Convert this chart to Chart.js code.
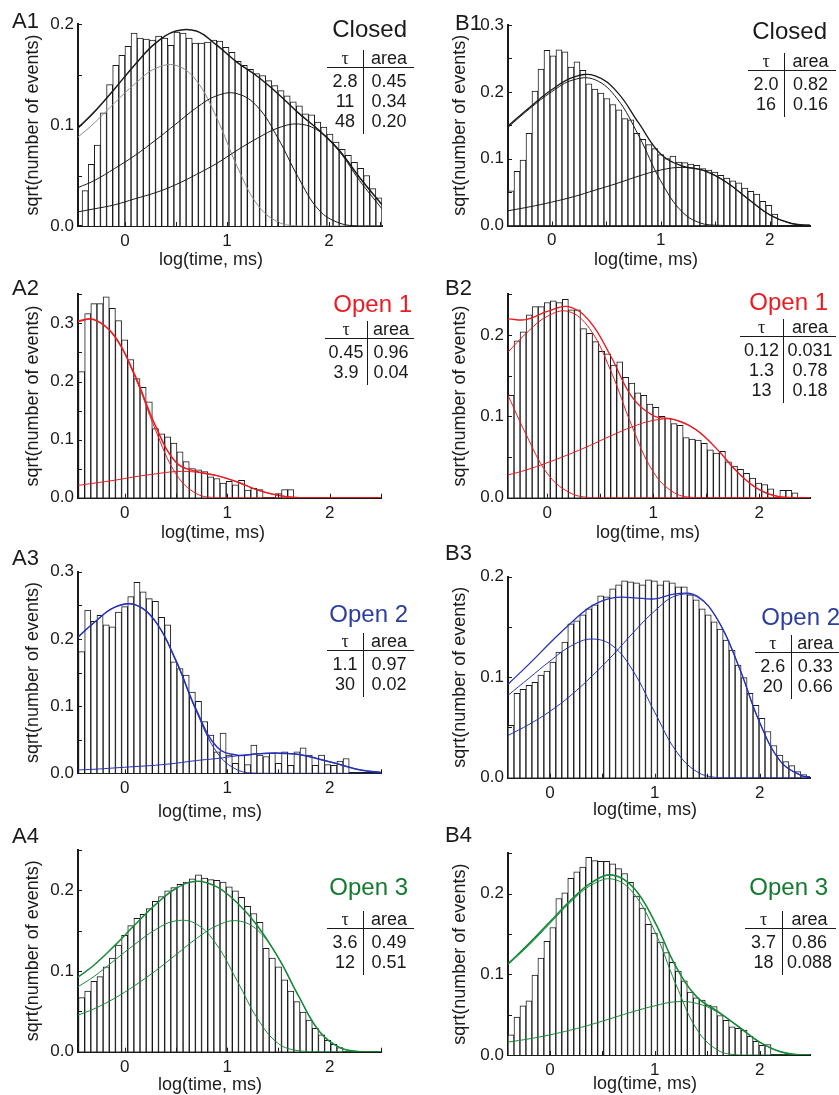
<!DOCTYPE html>
<html>
<head>
<meta charset="utf-8">
<script src="https://cdn.jsdelivr.net/npm/chart.js@4.4.1/dist/chart.umd.min.js"></script>
<style>
  html, body { margin: 0; padding: 0; background: #fff; }
  #fig { position: relative; width: 839px; height: 1095px; overflow: hidden;
         font-family: "Liberation Sans", Arial, Helvetica, sans-serif; color: #1a1a1a; }
  #fig canvas { position: absolute; }
  .lbl { position: absolute; font-size: 22px; line-height: 22px; white-space: nowrap; }
  .ttl { position: absolute; font-size: 24px; line-height: 24px; white-space: nowrap; text-align: right; }
  .xt { position: absolute; font-size: 18px; line-height: 18px; white-space: nowrap; transform: translate(-50%, -50%); }
  table.tb { position: absolute; border-collapse: collapse; font-size: 18px; }
  table.tb td { padding: 0; text-align: center; line-height: 20px; height: 20px; }
  table.tb tr.hd td { border-bottom: 1px solid #1a1a1a; line-height: 17px; height: 17px; }
  table.tb td.l { border-right: 1px solid #1a1a1a; }
  table.tb tr.r1 td { padding-top: 3px; }
  table.tb tr.last td { padding-bottom: 3px; }
  .tau { font-family: "Liberation Serif", "DejaVu Serif", serif; }
</style>
</head>
<body>
<div id="fig"></div>
<script>
'use strict';

// ---- histogram heights, sqrt(number of events), one value per log bin ----
const A_binWidth = 0.06;
const B1_binWidth = 0.055;
const B_binWidth = 0.057;

const A1_binStart = -0.42;
const A1_counts = [0.035, 0.061, 0.080, 0.112, 0.140, 0.159, 0.169, 0.178, 0.191, 0.186, 0.185, 0.184, 0.188, 0.186, 0.179, 0.192, 0.191, 0.186, 0.181, 0.181, 0.182, 0.184, 0.183, 0.177, 0.172, 0.163, 0.159, 0.155, 0.151, 0.149, 0.144, 0.139, 0.134, 0.129, 0.123, 0.119, 0.111, 0.110, 0.103, 0.098, 0.091, 0.083, 0.076, 0.070, 0.063, 0.057, 0.050, 0.037, 0.028];

const A2_binStart = -0.45;
const A2_counts = [0.217, 0.317, 0.334, 0.334, 0.346, 0.326, 0.305, 0.272, 0.238, 0.205, 0.190, 0.165, 0.119, 0.110, 0.105, 0.094, 0.079, 0.062, 0.050, 0.048, 0.045, 0.036, 0.033, 0.025, 0.028, 0.022, 0.030, 0.013, 0.016, 0.014, 0, 0, 0.007, 0.014, 0.014];

const A3_binStart = -0.45;
const A3_counts = [0.181, 0.243, 0.226, 0.235, 0.221, 0.218, 0.240, 0.248, 0.263, 0.284, 0.270, 0.260, 0.256, 0.232, 0.221, 0.166, 0.156, 0.146, 0.121, 0.107, 0.077, 0.057, 0.032, 0.060, 0.027, 0.015, 0.027, 0.013, 0.042, 0.027, 0.025, 0.030, 0.015, 0.032, 0.012, 0.032, 0.038, 0.027, 0.012, 0.027, 0.013, 0.012, 0.018, 0.022];

const A4_binStart = -0.45;
const A4_counts = [0.067, 0.075, 0.087, 0.093, 0.105, 0.116, 0.132, 0.144, 0.156, 0.165, 0.170, 0.177, 0.186, 0.192, 0.199, 0.203, 0.207, 0.210, 0.214, 0.219, 0.215, 0.213, 0.212, 0.210, 0.204, 0.199, 0.191, 0.180, 0.171, 0.160, 0.128, 0.116, 0.105, 0.089, 0.075, 0.062, 0.049, 0.039, 0.029, 0.021, 0.014, 0.009, 0.005];

const B1_binStart = -0.4;
const B1_counts = [0.052, 0.081, 0.098, 0.138, 0.201, 0.234, 0.262, 0.254, 0.263, 0.260, 0.237, 0.245, 0.232, 0.212, 0.204, 0.198, 0.190, 0.181, 0.173, 0.160, 0.158, 0.138, 0.129, 0.121, 0.115, 0.106, 0.100, 0.104, 0.095, 0.094, 0.092, 0.090, 0.085, 0.083, 0.080, 0.075, 0.071, 0.067, 0.064, 0.056, 0.051, 0.047, 0.036, 0.030, 0.017];

const B2_binStart = -0.37;
const B2_counts = [0.126, 0.193, 0.204, 0.225, 0.235, 0.235, 0.240, 0.242, 0.240, 0.244, 0.231, 0.231, 0.208, 0.202, 0.192, 0.180, 0.177, 0.163, 0.167, 0.148, 0.141, 0.129, 0.126, 0.115, 0.111, 0.100, 0.098, 0.091, 0.089, 0.074, 0.072, 0.071, 0.067, 0.059, 0.055, 0.057, 0.044, 0.039, 0.035, 0.030, 0.024, 0.018, 0.016, 0.011, 0, 0.009, 0.009, 0.006];

const B3_binStart = -0.4;
const B3_counts = [0.052, 0.084, 0.088, 0.092, 0.095, 0.102, 0.106, 0.115, 0.125, 0.135, 0.153, 0.156, 0.162, 0.168, 0.172, 0.181, 0.180, 0.188, 0.192, 0.196, 0.195, 0.194, 0.192, 0.197, 0.196, 0.192, 0.196, 0.194, 0.190, 0.190, 0.182, 0.177, 0.168, 0.162, 0.155, 0.148, 0.137, 0.127, 0.112, 0.0995, 0.084, 0.072, 0.059, 0.046, 0.032, 0.0226, 0.016, 0.012, 0.006, 0.003];

const B4_binStart = -0.4;
const B4_counts = [0.025, 0.047, 0.061, 0.067, 0.099, 0.120, 0.141, 0.158, 0.194, 0.201, 0.219, 0.227, 0.233, 0.245, 0.241, 0.240, 0.240, 0.237, 0.231, 0.225, 0.214, 0.197, 0.182, 0.162, 0.151, 0.140, 0.127, 0.115, 0.104, 0.092, 0.078, 0.071, 0.068, 0.062, 0.060, 0.049, 0.043, 0.035, 0.033, 0.031, 0.023, 0.017, 0.012, 0.013];

// ---- fitted curves at these log(time) positions ----
const A_curveX = [-0.46, -0.3, -0.1, 0.1, 0.3, 0.5, 0.7, 0.9, 1.1, 1.3, 1.5, 1.7, 1.9, 2.1, 2.3, 2.52];

const A1_sum = [0.097, 0.113, 0.136, 0.160, 0.181, 0.193, 0.193, 0.179, 0.162, 0.148, 0.131, 0.112, 0.095, 0.075, 0.048, 0.021];
const A1_fit1 = [0.088, 0.102, 0.122, 0.141, 0.156, 0.159, 0.144, 0.107, 0.059, 0.021, 0.004, 0, 0, 0, 0, 0];
const A1_fit2 = [0.038, 0.045, 0.057, 0.070, 0.085, 0.101, 0.117, 0.129, 0.131, 0.118, 0.087, 0.048, 0.016, 0.003, 0, 0];
const A1_fit3 = [0.014, 0.017, 0.021, 0.027, 0.033, 0.041, 0.051, 0.062, 0.075, 0.087, 0.097, 0.101, 0.094, 0.074, 0.045, 0.017];

const A2_sum = [0.304, 0.307, 0.279, 0.211, 0.124, 0.061, 0.045, 0.038, 0.027, 0.013, 0.004, 0, 0, 0, 0, 0];
const A2_fit1 = [0.303, 0.306, 0.277, 0.208, 0.117, 0.041, 0.007, 0, 0, 0, 0, 0, 0, 0, 0, 0];
const A2_fit2 = [0.021, 0.025, 0.030, 0.036, 0.041, 0.045, 0.044, 0.038, 0.027, 0.013, 0.004, 0, 0, 0, 0, 0];

const A3_sum = [0.202, 0.224, 0.247, 0.251, 0.226, 0.168, 0.094, 0.039, 0.027, 0.029, 0.030, 0.028, 0.021, 0.013, 0.005, 0.001];
const A3_fit1 = [0.202, 0.224, 0.247, 0.251, 0.226, 0.167, 0.092, 0.031, 0.005, 0, 0, 0, 0, 0, 0, 0];
const A3_fit2 = [0.005, 0.006, 0.008, 0.010, 0.012, 0.015, 0.019, 0.022, 0.026, 0.029, 0.030, 0.028, 0.021, 0.013, 0.005, 0.001];

const A4_sum = [0.092, 0.107, 0.131, 0.157, 0.182, 0.202, 0.211, 0.204, 0.184, 0.155, 0.116, 0.068, 0.025, 0.005, 0, 0];
const A4_fit1 = [0.080, 0.093, 0.113, 0.133, 0.151, 0.162, 0.158, 0.132, 0.087, 0.040, 0.010, 0.001, 0, 0, 0, 0];
const A4_fit2 = [0.045, 0.053, 0.066, 0.082, 0.100, 0.120, 0.140, 0.156, 0.162, 0.150, 0.116, 0.068, 0.025, 0.005, 0, 0];

const B1_curveX = [-0.4, -0.2, 0, 0.2, 0.4, 0.6, 0.8, 1.0, 1.2, 1.4, 1.6, 1.8, 2.0, 2.2, 2.4];
const B1_sum = [0.149, 0.177, 0.203, 0.222, 0.224, 0.200, 0.153, 0.107, 0.089, 0.082, 0.065, 0.040, 0.016, 0.003, 0];
const B1_fit1 = [0.147, 0.175, 0.200, 0.218, 0.218, 0.190, 0.134, 0.067, 0.020, 0.002, 0, 0, 0, 0, 0];
const B1_fit2 = [0.022, 0.028, 0.035, 0.043, 0.053, 0.063, 0.074, 0.083, 0.087, 0.082, 0.065, 0.040, 0.016, 0.003, 0];

const B2_curveX = [-0.37, -0.2, 0, 0.2, 0.4, 0.6, 0.8, 1.0, 1.2, 1.4, 1.6, 1.8, 2.0, 2.2, 2.4, 2.48];
const B2_sum = [0.220, 0.219, 0.229, 0.235, 0.217, 0.174, 0.124, 0.101, 0.096, 0.084, 0.060, 0.031, 0.010, 0.001, 0, 0];
const B2_fit1 = [0.126, 0.078, 0.030, 0.007, 0, 0, 0, 0, 0, 0, 0, 0, 0, 0, 0, 0];
const B2_fit2 = [0.179, 0.202, 0.223, 0.229, 0.208, 0.156, 0.088, 0.032, 0.006, 0, 0, 0, 0, 0, 0, 0];
const B2_fit3 = [0.028, 0.034, 0.043, 0.053, 0.064, 0.076, 0.087, 0.095, 0.096, 0.084, 0.060, 0.031, 0.010, 0.001, 0, 0];

const B_curveX = [-0.4, -0.2, 0, 0.2, 0.4, 0.6, 0.8, 1.0, 1.2, 1.4, 1.6, 1.8, 2.0, 2.2, 2.4, 2.48];
const B3_sum = [0.093, 0.113, 0.134, 0.154, 0.171, 0.179, 0.179, 0.178, 0.183, 0.181, 0.157, 0.111, 0.055, 0.016, 0.002, 0.001];
const B3_fit1 = [0.082, 0.099, 0.116, 0.131, 0.138, 0.131, 0.105, 0.065, 0.027, 0.006, 0, 0, 0, 0, 0, 0];
const B3_fit2 = [0.042, 0.053, 0.066, 0.082, 0.101, 0.122, 0.145, 0.166, 0.181, 0.180, 0.157, 0.111, 0.055, 0.016, 0.002, 0.001];

const B4_sum = [0.113, 0.138, 0.165, 0.192, 0.214, 0.223, 0.207, 0.165, 0.110, 0.072, 0.054, 0.035, 0.016, 0.004, 0, 0];
const B4_fit1 = [0.112, 0.136, 0.163, 0.190, 0.211, 0.218, 0.200, 0.153, 0.088, 0.032, 0.006, 0, 0, 0, 0, 0];
const B4_fit2 = [0.016, 0.020, 0.025, 0.031, 0.038, 0.046, 0.054, 0.061, 0.066, 0.064, 0.053, 0.035, 0.016, 0.004, 0, 0];

// ---- axis ticks (labels only on the whole ones) ----
const xTickValues = [0, 0.5, 1, 1.5, 2, 2.5];
const yTickValues = [0, 0.05, 0.1, 0.15, 0.2, 0.25, 0.3, 0.35];

// ---- fit tables ----
const A1_tau = ['2.8', '11', '48'], A1_area = ['0.45', '0.34', '0.20'];
const B1_tau = ['2.0', '16'], B1_area = ['0.82', '0.16'];
const A2_tau = ['0.45', '3.9'], A2_area = ['0.96', '0.04'];
const B2_tau = ['0.12', '1.3', '13'], B2_area = ['0.031', '0.78', '0.18'];
const A3_tau = ['1.1', '30'], A3_area = ['0.97', '0.02'];
const B3_tau = ['2.6', '20'], B3_area = ['0.33', '0.66'];
const A4_tau = ['3.6', '12'], A4_area = ['0.49', '0.51'];
const B4_tau = ['3.7', '18'], B4_area = ['0.86', '0.088'];

const yTitle = 'sqrt(number of events)';
const xTitle = 'log(time, ms)';

const INK = '#1a1a1a';
const RED = '#ea1c22';
const BLUE = '#2632b8';
const GREEN = '#178a38';
const BLUE_TXT = '#2b3ea0';
const GREEN_TXT = '#137a30';

const panels = [
  {name: 'A1', state: 'Closed', txt: INK, cx: 0, cy: 0, cw: 420, ch: 270, left: 78, right: 382, top: 24, bottom: 226,
   xmin: -0.46, xmax: 2.52, ymax: 0.2, yPad: 22, binStart: A1_binStart, binWidth: A_binWidth, counts: A1_counts,
   curveX: A_curveX, curves: [[A1_fit3, INK, 1], [A1_fit2, INK, 1], [A1_fit1, '#8c8c8c', 1], [A1_sum, INK, 1.5]],
   tau: A1_tau, area: A1_area, lbl: [12, 10], ttl: [407, 17], xt: [211, 259], tb: [327, 67, 36, 50]},
  {name: 'B1', state: 'Closed', txt: INK, cx: 420, cy: 0, cw: 419, ch: 270, left: 508, right: 810, top: 25, bottom: 225.5,
   xmin: -0.4, xmax: 2.37, ymax: 0.3, yPad: 29.5, binStart: B1_binStart, binWidth: B1_binWidth, counts: B1_counts,
   curveX: B1_curveX, curves: [[B1_fit2, INK, 1], [B1_fit1, INK, 1], [B1_sum, INK, 1.3]],
   tau: B1_tau, area: B1_area, lbl: [455, 12], ttl: [827, 19], xt: [646, 259], tb: [748, 70, 36, 51]},
  {name: 'A2', state: 'Open 1', txt: RED, cx: 0, cy: 270, cw: 420, ch: 285, left: 78, right: 381, top: 294.4, bottom: 497.7,
   xmin: -0.455, xmax: 2.5, ymax: 0.35, yPad: 22, binStart: A2_binStart, binWidth: A_binWidth, counts: A2_counts,
   curveX: A_curveX, curves: [[A2_fit2, RED, 1], [A2_fit1, RED, 1], [A2_sum, RED, 1.5]],
   tau: A2_tau, area: A2_area, lbl: [12, 277], ttl: [412, 292], xt: [213, 532], tb: [325, 338, 42, 46]},
  {name: 'B2', state: 'Open 1', txt: RED, cx: 420, cy: 270, cw: 419, ch: 285, left: 508, right: 810, top: 294.4, bottom: 497.7,
   xmin: -0.37, xmax: 2.48, ymax: 0.25, yPad: 29.5, binStart: B2_binStart, binWidth: B_binWidth, counts: B2_counts,
   curveX: B2_curveX, curves: [[B2_fit3, RED, 1], [B2_fit2, RED, 1], [B2_fit1, RED, 1], [B2_sum, RED, 1.3]],
   tau: B2_tau, area: B2_area, lbl: [445, 277], ttl: [828, 290], xt: [648, 532], tb: [740, 336, 43, 52]},
  {name: 'A3', state: 'Open 2', txt: BLUE_TXT, cx: 0, cy: 555, cw: 420, ch: 280, left: 78, right: 381, top: 571.7, bottom: 773.3,
   xmin: -0.455, xmax: 2.5, ymax: 0.3, yPad: 22, binStart: A3_binStart, binWidth: A_binWidth, counts: A3_counts,
   curveX: A_curveX, curves: [[A3_fit2, BLUE, 1], [A3_fit1, BLUE, 1], [A3_sum, BLUE, 1.5]],
   tau: A3_tau, area: A3_area, lbl: [12, 547], ttl: [408, 602], xt: [210, 811], tb: [327, 650, 36, 50]},
  {name: 'B3', state: 'Open 2', txt: BLUE_TXT, cx: 420, cy: 555, cw: 419, ch: 280, left: 508, right: 810, top: 576.7, bottom: 777.7,
   xmin: -0.4, xmax: 2.48, ymax: 0.2, yPad: 29.5, binStart: B3_binStart, binWidth: B_binWidth, counts: B3_counts,
   curveX: B_curveX, curves: [[B3_fit2, BLUE, 1], [B3_fit1, BLUE, 1], [B3_sum, BLUE, 1.3]],
   tau: B3_tau, area: B3_area, lbl: [445, 542], ttl: [840, 605], xt: [645, 809], tb: [755, 652, 36, 48]},
  {name: 'A4', state: 'Open 3', txt: GREEN_TXT, cx: 0, cy: 835, cw: 420, ch: 260, left: 78, right: 381, top: 849.7, bottom: 1051.7,
   xmin: -0.455, xmax: 2.5, ymax: 0.25, yPad: 22, binStart: A4_binStart, binWidth: A_binWidth, counts: A4_counts,
   curveX: A_curveX, curves: [[A4_fit2, GREEN, 1], [A4_fit1, GREEN, 1], [A4_sum, GREEN, 1.5]],
   tau: A4_tau, area: A4_area, lbl: [12, 825], ttl: [408, 875], xt: [210, 1084], tb: [327, 928, 36, 50]},
  {name: 'B4', state: 'Open 3', txt: GREEN_TXT, cx: 420, cy: 835, cw: 419, ch: 260, left: 508, right: 810, top: 853.3, bottom: 1055,
   xmin: -0.4, xmax: 2.48, ymax: 0.25, yPad: 29.5, binStart: B4_binStart, binWidth: B_binWidth, counts: B4_counts,
   curveX: B_curveX, curves: [[B4_fit2, GREEN, 1], [B4_fit1, GREEN, 1], [B4_sum, GREEN, 1.6]],
   tau: B4_tau, area: B4_area, lbl: [445, 824], ttl: [828, 875], xt: [645, 1083], tb: [745, 928, 37, 53]}
];

Chart.defaults.font.family = '"Liberation Sans", Arial, Helvetica, sans-serif';
Chart.defaults.color = INK;

// small inward tick marks, like the original axes
const innerTicks = {
  id: 'innerTicks',
  afterDraw(chart) {
    const {ctx, chartArea: a, scales: {x, y}} = chart;
    ctx.save();
    ctx.strokeStyle = INK;
    ctx.lineWidth = 1;
    ctx.beginPath();
    y.ticks.forEach(t => {
      const py = Math.round(y.getPixelForValue(t.value)) + 0.5;
      ctx.moveTo(a.left, py);
      ctx.lineTo(a.left + 4, py);
    });
    x.ticks.forEach(t => {
      const px = Math.round(x.getPixelForValue(t.value)) + 0.5;
      ctx.moveTo(px, a.bottom);
      ctx.lineTo(px, a.bottom - 4);
    });
    ctx.stroke();
    ctx.restore();
  }
};

const fig = document.getElementById('fig');

function addDiv(cls, text, css) {
  const d = document.createElement('div');
  d.className = cls;
  d.textContent = text;
  Object.assign(d.style, css);
  fig.appendChild(d);
  return d;
}

function addTable(p) {
  const [x, lineY, wl, wr] = p.tb;
  const t = document.createElement('table');
  t.className = 'tb';
  t.style.left = x + 'px';
  t.style.top = (lineY - 17) + 'px';
  let html = '<tr class="hd"><td class="l" style="width:' + wl + 'px"><span class="tau">τ</span></td>' +
             '<td style="width:' + wr + 'px">area</td></tr>';
  p.tau.forEach((v, i) => {
    let cls = i === 0 ? 'r1' : '';
    if (i === p.tau.length - 1) cls += ' last';
    html += '<tr class="' + cls + '"><td class="l">' + v + '</td><td>' + p.area[i] + '</td></tr>';
  });
  t.innerHTML = html;
  fig.appendChild(t);
}

const inRange = (v, lo, hi) => v >= lo - 1e-9 && v <= hi + 1e-9;

function buildPanel(p) {
  const cv = document.createElement('canvas');
  cv.width = p.cw;
  cv.height = p.ch;
  cv.style.left = p.cx + 'px';
  cv.style.top = p.cy + 'px';
  fig.appendChild(cv);

  const bars = p.counts.map((c, i) => ({x: +(p.binStart + (i + 0.5) * p.binWidth).toFixed(4), y: c}));
  const datasets = [{
    type: 'bar',
    data: bars,
    backgroundColor: '#ffffff',
    borderColor: INK,
    borderWidth: 1,
    barPercentage: 1,
    categoryPercentage: 1,
    order: 2
  }];
  p.curves.forEach(([ys, color, w]) => {
    datasets.push({
      type: 'line',
      data: p.curveX.map((x, i) => ({x: x, y: ys[i]})),
      borderColor: color,
      borderWidth: w,
      pointRadius: 0,
      tension: 0.4,
      fill: false,
      order: 1
    });
  });

  new Chart(cv, {
    type: 'bar',
    data: {datasets},
    options: {
      responsive: false,
      animation: false,
      devicePixelRatio: 1,
      events: [],
      layout: {
        autoPadding: false,
        padding: {left: 0, top: p.top - p.cy, right: p.cx + p.cw - p.right, bottom: 0}
      },
      plugins: {legend: {display: false}, tooltip: {enabled: false}},
      scales: {
        x: {
          type: 'linear', min: p.xmin, max: p.xmax, offset: false,
          grid: {display: false, drawTicks: false, offset: false},
          border: {display: true, color: INK, width: 2},
          afterBuildTicks: s => {
            s.ticks = xTickValues.filter(v => inRange(v, p.xmin, p.xmax)).map(v => ({value: v}));
          },
          ticks: {
            autoSkip: false, maxRotation: 0, padding: 5, font: {size: 17},
            callback: v => Number.isInteger(v) ? String(v) : ''
          },
          afterFit: s => { s.height = p.cy + p.ch - p.bottom; }
        },
        y: {
          type: 'linear', min: 0, max: p.ymax,
          grid: {display: false, drawTicks: false},
          border: {display: true, color: INK, width: 2},
          afterBuildTicks: s => {
            s.ticks = yTickValues.filter(v => inRange(v, 0, p.ymax)).map(v => ({value: v}));
          },
          ticks: {
            autoSkip: false, padding: 4, font: {size: 17},
            callback: v => Math.abs(v * 10 - Math.round(v * 10)) < 1e-6 ? v.toFixed(1) : ''
          },
          title: {display: true, text: yTitle, font: {size: 18}, padding: {top: p.yPad, bottom: 0}},
          afterFit: s => { s.width = p.left - p.cx; }
        }
      }
    },
    plugins: [innerTicks]
  });

  addDiv('lbl', p.name, {left: p.lbl[0] + 'px', top: p.lbl[1] + 'px'});
  addDiv('ttl', p.state, {right: (839 - p.ttl[0]) + 'px', top: p.ttl[1] + 'px', color: p.txt});
  addDiv('xt', xTitle, {left: p.xt[0] + 'px', top: p.xt[1] + 'px'});
  addTable(p);
}

panels.forEach(buildPanel);
</script>
</body>
</html>
